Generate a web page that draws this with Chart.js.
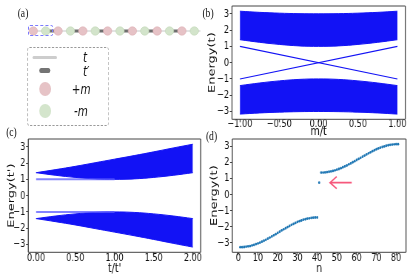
<!DOCTYPE html>
<html>
<head>
<meta charset="utf-8">
<script src="https://cdn.jsdelivr.net/npm/chart.js@4.4.1/dist/chart.umd.min.js"></script>
<style>
  html, body { margin:0; padding:0; background:#fff; width:415px; height:276px; overflow:hidden; }
  /* the whole figure is squeezed sideways, so lay it out wider and compress */
  #page { position:absolute; left:0; top:0; width:561px; height:276px; transform:scaleX(0.74); transform-origin:0 0; }
  #page canvas { position:absolute; left:0; top:0; }
  #chain { position:absolute; left:0; top:0; }
  .lbl { position:absolute; font-family:"Liberation Serif", serif; font-size:13px; transform:translate(-50%,-50%); white-space:nowrap; color:#111; }
  #legend { position:absolute; left:36.9px; top:47.3px; width:110px; height:78.7px; border:1px dashed #9a9a9a; border-radius:3px; box-sizing:border-box; }
  .sym { position:absolute; }
  .ltxt { position:absolute; font-family:"DejaVu Sans", sans-serif; font-style:italic; font-size:14px; transform:translateY(-50%); white-space:nowrap; color:#111; }
  #cell { position:absolute; left:27.7px; top:24.7px; width:25px; height:11.3px; border:1px dashed #7a7aff; border-radius:2px; box-sizing:border-box; }
</style>
</head>
<body>
<canvas id="chain" width="415" height="60"></canvas>
<div id="cell"></div>
<div id="page">
  <canvas id="cb" width="561" height="300"></canvas>
  <canvas id="cc" width="561" height="300"></canvas>
  <canvas id="cd" width="561" height="300"></canvas>

  <div id="legend"></div>
  <div class="sym" style="left:43.6px;top:55.8px;width:33.8px;height:3px;background:#cdcdcd;border-radius:1.5px"></div>
  <div class="sym" style="left:53.1px;top:68.2px;width:14.5px;height:5px;background:#747474;border-radius:2.5px"></div>
  <div class="sym" style="left:52.9px;top:82px;width:15.8px;height:14px;background:#e6c3c6;border-radius:50%"></div>
  <div class="sym" style="left:52.9px;top:104px;width:15.8px;height:14px;background:#d4e5cc;border-radius:50%"></div>
  <div class="ltxt" style="left:112.2px;top:57px">t</div>
  <div class="ltxt" style="left:112.2px;top:70.5px">t′</div>
  <div class="ltxt" style="left:96.9px;top:89px">+m</div>
  <div class="ltxt" style="left:100px;top:111px">-m</div>

  <div class="lbl" style="left:31.1px;top:13px">(a)</div>
  <div class="lbl" style="left:281.1px;top:13px">(b)</div>
  <div class="lbl" style="left:15.5px;top:132px">(c)</div>
  <div class="lbl" style="left:285.8px;top:136px">(d)</div>
</div>

<script>
// ---- data ----
// (a) chain: 14 sites, alternating +m / -m
const chainSites = [0, 1, 2, 3, 4, 5, 6, 7, 8, 9, 10, 11, 12, 13];
const chainSign = ['+', '-', '+', '-', '+', '-', '+', '-', '+', '-', '+', '-', '+', '-'];

// (b) energy vs m/t
const mB = [-1, -0.75, -0.5, -0.25, 0, 0.25, 0.5, 0.75, 1];
const bUpOuter = [3.16, 3.09, 3.04, 3.01, 3.00, 3.01, 3.04, 3.09, 3.16];
const bUpInner = [1.41, 1.25, 1.12, 1.03, 1.00, 1.03, 1.12, 1.25, 1.41];
const bLowInner = [-1.41, -1.25, -1.12, -1.03, -1.00, -1.03, -1.12, -1.25, -1.41];
const bLowOuter = [-3.16, -3.09, -3.04, -3.01, -3.00, -3.01, -3.04, -3.09, -3.16];
const bEdgeM = [-1, 1];
const bEdgeA = [-1, 1];
const bEdgeB = [1, -1];
const bTicksX = [-1, -0.5, 0, 0.5, 1];

// (c) energy vs t/t'
const rC = [0, 0.25, 0.5, 0.75, 1, 1.25, 1.5, 1.75, 2];
const cUpOuter = [1.41, 1.60, 1.80, 2.02, 2.24, 2.46, 2.69, 2.93, 3.16];
const cUpInner = [1.41, 1.25, 1.12, 1.03, 1.00, 1.03, 1.12, 1.25, 1.41];
const cLowInner = [-1.41, -1.25, -1.12, -1.03, -1.00, -1.03, -1.12, -1.25, -1.41];
const cLowOuter = [-1.41, -1.60, -1.80, -2.02, -2.24, -2.46, -2.69, -2.93, -3.16];
const cEdgeR = [0, 1];
const cEdgeUp = [1, 1];
const cEdgeDn = [-1, -1];
const cTicksX = [0, 0.5, 1, 1.5, 2];

// (d) spectrum, state index n
const dLower = [-3.27, -3.27, -3.26, -3.24, -3.22, -3.20, -3.16, -3.13, -3.08, -3.04,
  -2.99, -2.93, -2.87, -2.81, -2.74, -2.67, -2.60, -2.53, -2.46, -2.38,
  -2.31, -2.23, -2.16, -2.09, -2.02, -1.95, -1.88, -1.82, -1.76, -1.70,
  -1.65, -1.61, -1.56, -1.53, -1.49, -1.47, -1.45, -1.43, -1.42, -1.42];
const dEdge = [0.75];
const dUpper = [1.38, 1.38, 1.39, 1.41, 1.43, 1.45, 1.48, 1.52, 1.56, 1.60,
  1.65, 1.71, 1.76, 1.82, 1.89, 1.95, 2.02, 2.09, 2.16, 2.23,
  2.30, 2.37, 2.44, 2.51, 2.58, 2.64, 2.71, 2.77, 2.83, 2.88,
  2.93, 2.97, 3.01, 3.05, 3.08, 3.11, 3.12, 3.14, 3.15, 3.15];
const dTicksX = [0, 10, 20, 30, 40, 50, 60, 70, 80];
const arrowN = [57.5, 46.5];
const arrowE = 0.75;

const eTicks = [-3, -2, -1, 0, 1, 2, 3];

// ---- helpers ----
const SX = 0.74;
const vx = x => x / SX;
const W = 561, H = 300;
const BLUE = 'rgb(18,18,245)';
const minus = s => s.replace('-', '\u2212');

const pts = (xs, ys) => xs.map((x, i) => ({ x: x, y: ys[i] }));

function band(xs, a, b) {
  return [
    { data: pts(xs, a), borderColor: BLUE, backgroundColor: BLUE, borderWidth: 1, pointRadius: 0, fill: '+1', tension: 0.4 },
    { data: pts(xs, b), borderColor: BLUE, borderWidth: 1, pointRadius: 0, fill: false, tension: 0.4 }
  ];
}

function axis(dir, min, max, ticks, fmt, title, size, pad) {
  return {
    type: 'linear', min: min, max: max,
    afterBuildTicks: s => { s.ticks = ticks.map(v => ({ value: v })); },
    afterFit: s => {
      if (dir === 'x') s.height = size; else s.width = size;
      s.paddingLeft = s.paddingRight = s.paddingTop = s.paddingBottom = 0;
    },
    grid: { drawOnChartArea: false, drawTicks: true, tickLength: 3, tickColor: '#444', tickWidth: dir === 'x' ? 1.3 : 1 },
    border: { display: false },
    ticks: { color: '#111', padding: pad, autoSkip: false, maxRotation: 0,
      font: { family: 'DejaVu Sans', size: 11, lineHeight: 1 }, callback: v => fmt(v) },
    title: { display: true, text: title, color: '#111', padding: 0,
      font: { family: 'DejaVu Sans', size: 13, lineHeight: 1.2 } }
  };
}

const framePlugin = {
  id: 'frame',
  afterDatasetsDraw(chart) {
    const { ctx, chartArea: a } = chart;
    ctx.save();
    ctx.strokeStyle = '#444';
    ctx.lineWidth = 1;
    ctx.beginPath();
    ctx.moveTo(a.left, a.top); ctx.lineTo(a.right, a.top);
    ctx.moveTo(a.left, a.bottom); ctx.lineTo(a.right, a.bottom);
    ctx.stroke();
    ctx.lineWidth = 1.35;
    ctx.beginPath();
    ctx.moveTo(a.left, a.top); ctx.lineTo(a.left, a.bottom);
    ctx.moveTo(a.right, a.top); ctx.lineTo(a.right, a.bottom);
    ctx.stroke();
    ctx.restore();
  }
};

// frame = real pixel box of the plot; yTitle = real x centre of the y title
function panel(id, frame, o, extra) {
  const padL = vx(o.yTitle) - 7.8;
  return new Chart(document.getElementById(id), {
    type: 'line',
    data: { datasets: o.datasets },
    options: {
      responsive: false, animation: false, devicePixelRatio: 1,
      layout: { padding: { left: padL, right: W - vx(frame.r), top: frame.t, bottom: H - frame.b - o.xH } },
      plugins: { legend: { display: false }, tooltip: { enabled: false } },
      scales: {
        x: axis('x', o.xMin, o.xMax, o.xTicks, o.xFmt, o.xTitle, o.xH, o.xPad),
        y: axis('y', o.yMin, o.yMax, eTicks, v => minus(String(v)), o.yTitle2, vx(frame.l) - padL, 1)
      }
    },
    plugins: [framePlugin].concat(extra || [])
  });
}

// ---- (a) chain ----
const pink = '#e6c2c6', green = '#d3e4cb';
const darkBonds = [];
chainSites.forEach(i => {
  if (i % 2 === 1 && i < chainSites.length - 1) {
    darkBonds.push({ x: i, y: 0 }, { x: i + 1, y: 0 }, { x: i + 1.5, y: null });
  }
});
new Chart(document.getElementById('chain'), {
  type: 'line',
  data: { datasets: [
    { data: chainSites.map(i => ({ x: i, y: 0 })), showLine: false, order: 0, clip: false,
      pointRadius: 4.2, pointBorderWidth: 0.6,
      pointBackgroundColor: chainSign.map(s => s === '+' ? pink : green),
      pointBorderColor: chainSign.map(s => s === '+' ? '#ddb0b5' : '#c3d9b9') },
    { data: darkBonds, borderColor: '#6e6e6e', borderWidth: 3, pointRadius: 0, order: 1, clip: false, spanGaps: false },
    { data: [{ x: 0, y: 0 }, { x: 13.5, y: 0 }], borderColor: '#c8c8c8', borderWidth: 1.2, pointRadius: 0, order: 2, clip: false }
  ] },
  options: {
    responsive: false, animation: false, devicePixelRatio: 1,
    layout: { padding: { left: 33.3, right: 415 - 194.3, top: 21, bottom: 19 } },
    plugins: { legend: { display: false }, tooltip: { enabled: false } },
    scales: { x: { type: 'linear', min: 0, max: 13, display: false }, y: { min: -1, max: 1, display: false } }
  }
});

// ---- (b) ----
panel('cb', { l: 232, r: 405.3, t: 6, b: 119.3 }, {
  datasets: [
    ...band(mB, bUpOuter, bUpInner),
    ...band(mB, bLowInner, bLowOuter),
    { data: pts(bEdgeM, bEdgeA), borderColor: BLUE, borderWidth: 1.1, pointRadius: 0 },
    { data: pts(bEdgeM, bEdgeB), borderColor: BLUE, borderWidth: 1.1, pointRadius: 0 }
  ],
  xMin: -1.1, xMax: 1.1, xTicks: bTicksX, xFmt: v => minus(v.toFixed(2)), xTitle: 'm/t', xH: 20.2, xPad: -3.2,
  yMin: -3.48, yMax: 3.48, yTitle: 212, yTitle2: 'Energy(t)'
});

// ---- (c) ----
panel('cc', { l: 28.3, r: 200.7, t: 139, b: 252.3 }, {
  datasets: [
    { data: pts(cEdgeR, cEdgeUp), borderColor: 'rgba(90,90,255,0.75)', borderWidth: 2, pointRadius: 0 },
    { data: pts(cEdgeR, cEdgeDn), borderColor: 'rgba(90,90,255,0.75)', borderWidth: 2, pointRadius: 0 },
    ...band(rC, cUpOuter, cUpInner),
    ...band(rC, cLowInner, cLowOuter)
  ],
  xMin: -0.1, xMax: 2.1, xTicks: cTicksX, xFmt: v => v.toFixed(2), xTitle: "t/t'", xH: 24.5, xPad: -2.5,
  yMin: -3.48, yMax: 3.48, yTitle: 11.3, yTitle2: "Energy(t')"
});

// ---- (d) ----
const arrowPlugin = {
  id: 'arrow',
  afterDatasetsDraw(chart) {
    const { ctx } = chart;
    const xs = chart.scales.x, ys = chart.scales.y;
    const x0 = xs.getPixelForValue(arrowN[0]), x1 = xs.getPixelForValue(arrowN[1]);
    const y = ys.getPixelForValue(arrowE);
    ctx.save();
    ctx.strokeStyle = '#f6587c';
    ctx.lineWidth = 1.7;
    ctx.beginPath();
    ctx.moveTo(x0, y); ctx.lineTo(x1, y);
    ctx.moveTo(x1 + 9, y - 6); ctx.lineTo(x1, y); ctx.lineTo(x1 + 9, y + 6);
    ctx.stroke();
    ctx.restore();
  }
};
const dotStyle = { showLine: false, pointRadius: 1.4, pointBorderWidth: 0, pointBackgroundColor: '#1f77b4' };
panel('cd', { l: 232.3, r: 406, t: 139, b: 252.3 }, {
  datasets: [
    { data: dLower.map((e, i) => ({ x: i + 1, y: e })), ...dotStyle },
    { data: dEdge.map((e, i) => ({ x: dLower.length + 1 + i, y: e })), ...dotStyle },
    { data: dUpper.map((e, i) => ({ x: dLower.length + dEdge.length + 1 + i, y: e })), ...dotStyle }
  ],
  xMin: -3, xMax: 85, xTicks: dTicksX, xFmt: v => String(v), xTitle: 'n', xH: 24.5, xPad: -2.5,
  yMin: -3.59, yMax: 3.47, yTitle: 214.3, yTitle2: 'Energy(t)'
}, [arrowPlugin]);
</script>
</body>
</html>
